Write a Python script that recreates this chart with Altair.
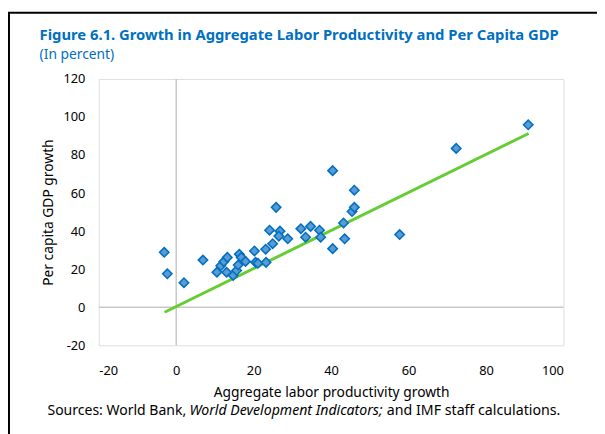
import altair as alt
import pandas as pd

# Data
labor_growth = [-3.1, -2.3, 2.0, 6.9, 10.5, 11.5, 12.3, 13.2, 13.0, 14.7, 15.6, 16.0,
                16.3, 16.8, 17.9, 20.2, 20.5, 21.1, 23.1, 23.2, 24.9, 24.1, 25.8, 26.8,
                26.5, 28.8, 32.2, 34.7, 37.0, 33.4, 37.3, 40.4, 40.4, 43.2, 43.5, 45.4,
                46.0, 46.0, 57.7, 72.3, 90.9]
gdp_growth = [28.9, 17.6, 12.9, 24.8, 18.4, 21.8, 24.0, 26.2, 18.4, 16.7, 19.3, 22.2,
              27.9, 26.2, 24.1, 29.6, 23.6, 23.1, 30.5, 23.6, 33.4, 40.5, 52.5, 40.0,
              37.4, 36.0, 41.3, 42.5, 40.5, 36.8, 36.8, 30.8, 71.8, 44.3, 36.0, 50.3,
              52.5, 61.5, 38.2, 83.5, 95.9]
fit_x = [-3.0, 91.0]
fit_y = [-2.6, 91.3]
x_ticks = [-20, 0, 20, 40, 60, 80, 100]
y_ticks = [-20, 0, 20, 40, 60, 80, 100, 120]

title_text = "Figure 6.1. Growth in Aggregate Labor Productivity and Per Capita GDP"
subtitle_text = "(In percent)"
source_parts = ["Sources: World Bank, ", "World Development Indicators;", "and IMF staff calculations."]

FONT = "Noto Sans"
W, H = 471, 270

pts = pd.DataFrame({"x": labor_growth, "y": gdp_growth})
fit = pd.DataFrame({"x": fit_x, "y": fit_y})

xs = alt.Scale(domain=[-20, 100], nice=False, zero=False)
ys = alt.Scale(domain=[-20, 120], nice=False, zero=False)

xaxis = alt.Axis(values=x_ticks, title="Aggregate labor productivity growth", grid=False,
                 ticks=False, domain=False, labelPadding=20, titlePadding=8,
                 labelExpr="toString(datum.value)", labelOverlap=False,
                 labelFontSize=13, titleFontSize=14, labelFont=FONT, titleFont=FONT,
                 labelColor="#000000", titleColor="#000000", titleFontWeight="normal")
yaxis = alt.Axis(values=y_ticks, title="Per capita GDP growth", grid=False,
                 ticks=False, domain=False, labelPadding=14, titlePadding=8,
                 labelExpr="toString(datum.value)", labelOverlap=False,
                 labelFontSize=13, titleFontSize=14, labelFont=FONT, titleFont=FONT,
                 labelColor="#000000", titleColor="#000000", titleFontWeight="normal")

X = lambda f: alt.X(f, scale=xs, axis=xaxis)
Y = lambda f: alt.Y(f, scale=ys, axis=yaxis)

zero_v = alt.Chart(pd.DataFrame({"v": [0]})).mark_rule(color="#C8C8C8", strokeWidth=1.5).encode(
    x=X("v:Q"))
zero_h = alt.Chart(pd.DataFrame({"v": [0]})).mark_rule(color="#C8C8C8", strokeWidth=1.5).encode(
    y=Y("v:Q"))

line = alt.Chart(fit).mark_line(color="#66CC33", strokeWidth=3).encode(
    x=X("x:Q"), y=Y("y:Q"))

points = alt.Chart(pts).mark_point(shape="diamond", filled=True, size=90,
                                   fill="#5B9BD5", stroke="#0070C0", strokeWidth=1.6,
                                   opacity=1).encode(
    x=X("x:Q"), y=Y("y:Q"))


def text_layer(txt, x, y, size, weight="normal", style="normal", color="#000000"):
    return alt.Chart(pd.DataFrame({"t": [txt]})).mark_text(
        align="left", baseline="alphabetic", font=FONT, fontSize=size,
        fontWeight=weight, fontStyle=style, color=color).encode(
        x=alt.value(x), y=alt.value(y), text="t:N")


title_l = text_layer(title_text, -60, -39, 15, weight="bold", color="#0070C0")
subtitle_l = text_layer(subtitle_text, -60, -20, 14, color="#0070C0")

src_y = H + 71
src1 = text_layer(source_parts[0], -52, src_y, 14.2)
src2 = text_layer(source_parts[1], 92, src_y, 14.3, style="italic")
src3 = text_layer(source_parts[2], 292, src_y, 14.4)

frame_v = alt.Chart(pd.DataFrame({"t": [0]})).mark_rule(color="#000000", strokeWidth=2).encode(
    x=alt.value(-91), y=alt.value(-67), y2=alt.value(H + 90))
frame_h = alt.Chart(pd.DataFrame({"t": [0]})).mark_rule(color="#000000", strokeWidth=2).encode(
    x=alt.value(-92), x2=alt.value(W + 40), y=alt.value(-67))

chart = alt.layer(zero_v, zero_h, line, points, title_l, subtitle_l,
                  src1, src2, src3, frame_v, frame_h).properties(
    width=W, height=H,
    autosize=alt.AutoSizeParams(type="none"),
    padding={"left": 92, "top": 69, "right": 34, "bottom": 87},
).configure_axis(labelOverlap=False).configure_view(
    stroke="#C8C8C8", strokeWidth=1.5).configure(background="#FFFFFF")

chart.save("out.html", embed_options={"renderer": "svg", "actions": False})
